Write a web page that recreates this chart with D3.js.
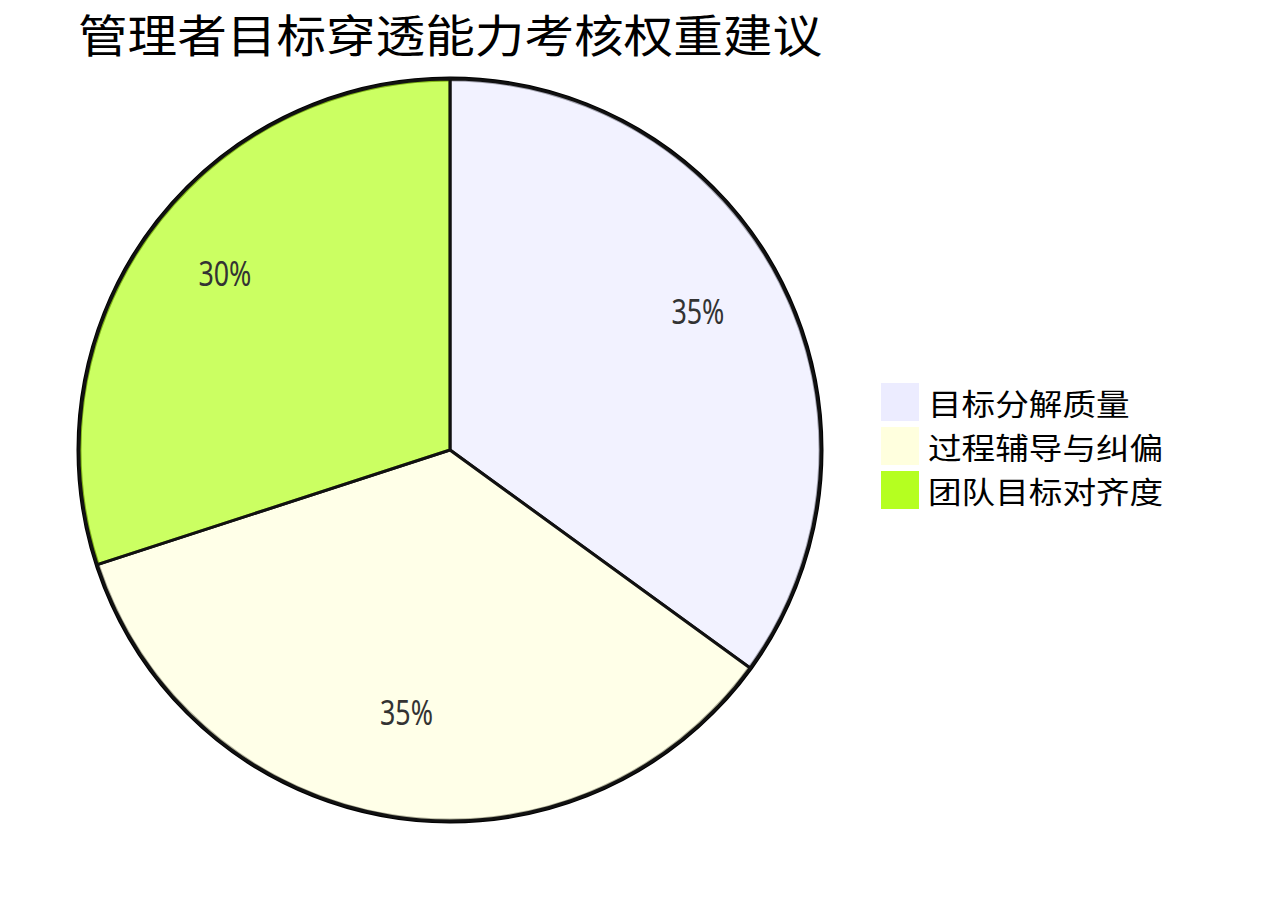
<!DOCTYPE html>
<html>
<head>
<meta charset="utf-8">
<script src="https://cdn.jsdelivr.net/npm/d3@7"></script>
<style>
  body { margin: 0; background: #fff; }
  svg { display: block; }
</style>
</head>
<body>
<div id="chart"></div>
<script>
const title = "管理者目标穿透能力考核权重建议"
const categories = ["目标分解质量", "过程辅导与纠偏", "团队目标对齐度"]
const weights = [35, 35, 30]
const colors = ["#ECECFF", "#FFFFDE", "#B5FF20"]

const width = 1265, height = 900
const cx = 450, cy = 450, radius = 371

const svg = d3.select("#chart")
  .append("svg")
  .attr("width", width)
  .attr("height", height)

svg.append("text")
  .attr("x", cx)
  .attr("y", 53)
  .attr("text-anchor", "middle")
  .attr("font-family", "'Noto Sans CJK SC', sans-serif")
  .attr("font-size", 45)
  .attr("textLength", 744)
  .attr("lengthAdjust", "spacingAndGlyphs")
  .attr("fill", "#000")
  .text(title)

const data = categories.map((c, i) => ({ name: c, value: weights[i] }))

const color = d3.scaleOrdinal().domain(categories).range(colors)

const pie = d3.pie().value(d => d.value).sort(null)
const arcs = pie(data)

const arc = d3.arc().innerRadius(0).outerRadius(radius)
const labelArc = d3.arc().innerRadius(radius * 0.75).outerRadius(radius * 0.75)

const g = svg.append("g")
  .attr("transform", `translate(${cx},${cy})`)

g.append("circle")
  .attr("r", radius)
  .attr("fill", "none")
  .attr("stroke", "#000")
  .attr("stroke-width", 5)

g.selectAll("path.slice")
  .data(arcs)
  .join("path")
  .attr("class", "slice")
  .attr("d", arc)
  .attr("fill", d => color(d.data.name))
  .attr("fill-opacity", 0.7)
  .attr("stroke", "#111")
  .attr("stroke-width", 3)

const total = d3.sum(weights)
g.selectAll("text.lbl")
  .data(arcs)
  .join("text")
  .attr("class", "lbl")
  .attr("transform", d => `translate(${labelArc.centroid(d)})`)
  .attr("text-anchor", "middle")
  .attr("font-family", "'Noto Sans', sans-serif")
  .attr("font-size", 34)
  .attr("textLength", 53)
  .attr("lengthAdjust", "spacingAndGlyphs")
  .attr("fill", "#333")
  .text(d => Math.round(d.data.value / total * 100) + "%")

// legend
const legend = svg.append("g")
  .attr("transform", "translate(881,383)")

const items = legend.selectAll("g")
  .data(categories)
  .join("g")
  .attr("transform", (d, i) => `translate(0,${i * 44})`)

items.append("rect")
  .attr("width", 38)
  .attr("height", 38)
  .attr("fill", d => color(d))

items.append("text")
  .attr("x", 47)
  .attr("y", 32)
  .attr("font-family", "'Noto Sans CJK SC', sans-serif")
  .attr("font-size", 30)
  .attr("textLength", d => d.length * 33.6)
  .attr("lengthAdjust", "spacingAndGlyphs")
  .attr("fill", "#000")
  .text(d => d)
</script>
</body>
</html>
